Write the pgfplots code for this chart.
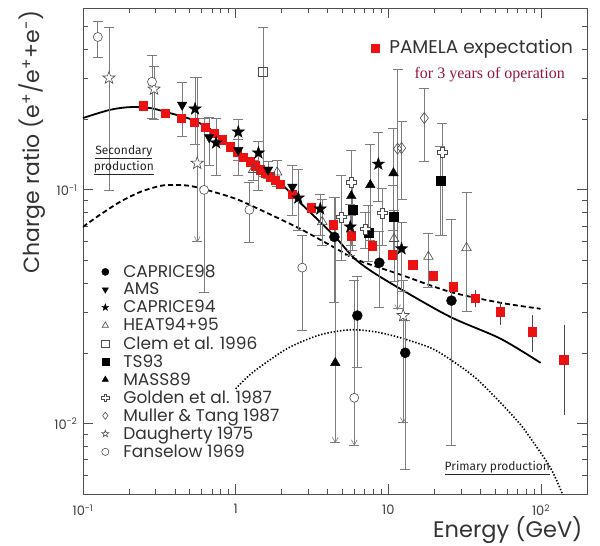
\documentclass[border=0pt]{standalone}
\usepackage{fontspec}
\setmainfont{Poppins}
\newfontfamily\timesfont{Liberation Serif}
\newfontfamily\notefont{Fira Sans}
\usepackage{pgfplots}
\pgfplotsset{compat=1.18}
\usetikzlibrary{plotmarks}

\definecolor{pamred}{RGB}{236,18,18}
\definecolor{opred}{RGB}{150,22,62}
\definecolor{ebar}{RGB}{125,125,125}
\definecolor{axgray}{RGB}{80,80,80}

% five pointed star, filled with the fill colour in force
\pgfdeclareplotmark{fstar}{%
  \pgfpathmoveto{\pgfqpointpolar{90}{\pgfplotmarksize}}%
  \pgfpathlineto{\pgfqpointpolar{126}{0.4\pgfplotmarksize}}%
  \pgfpathlineto{\pgfqpointpolar{162}{\pgfplotmarksize}}%
  \pgfpathlineto{\pgfqpointpolar{198}{0.4\pgfplotmarksize}}%
  \pgfpathlineto{\pgfqpointpolar{234}{\pgfplotmarksize}}%
  \pgfpathlineto{\pgfqpointpolar{270}{0.4\pgfplotmarksize}}%
  \pgfpathlineto{\pgfqpointpolar{306}{\pgfplotmarksize}}%
  \pgfpathlineto{\pgfqpointpolar{342}{0.4\pgfplotmarksize}}%
  \pgfpathlineto{\pgfqpointpolar{18}{\pgfplotmarksize}}%
  \pgfpathlineto{\pgfqpointpolar{54}{0.4\pgfplotmarksize}}%
  \pgfpathclose
  \pgfusepathqfillstroke}
% greek cross outline
\pgfdeclareplotmark{gcross}{%
  \pgfpathmoveto{\pgfqpoint{0.35\pgfplotmarksize}{\pgfplotmarksize}}%
  \pgfpathlineto{\pgfqpoint{-0.35\pgfplotmarksize}{\pgfplotmarksize}}%
  \pgfpathlineto{\pgfqpoint{-0.35\pgfplotmarksize}{0.35\pgfplotmarksize}}%
  \pgfpathlineto{\pgfqpoint{-\pgfplotmarksize}{0.35\pgfplotmarksize}}%
  \pgfpathlineto{\pgfqpoint{-\pgfplotmarksize}{-0.35\pgfplotmarksize}}%
  \pgfpathlineto{\pgfqpoint{-0.35\pgfplotmarksize}{-0.35\pgfplotmarksize}}%
  \pgfpathlineto{\pgfqpoint{-0.35\pgfplotmarksize}{-\pgfplotmarksize}}%
  \pgfpathlineto{\pgfqpoint{0.35\pgfplotmarksize}{-\pgfplotmarksize}}%
  \pgfpathlineto{\pgfqpoint{0.35\pgfplotmarksize}{-0.35\pgfplotmarksize}}%
  \pgfpathlineto{\pgfqpoint{\pgfplotmarksize}{-0.35\pgfplotmarksize}}%
  \pgfpathlineto{\pgfqpoint{\pgfplotmarksize}{0.35\pgfplotmarksize}}%
  \pgfpathlineto{\pgfqpoint{0.35\pgfplotmarksize}{0.35\pgfplotmarksize}}%
  \pgfpathclose
  \pgfusepathqfillstroke}
% downward arrow head for upper limits (tip at the point)
\pgfdeclareplotmark{varrow}{%
  \pgfpathmoveto{\pgfqpoint{-0.7\pgfplotmarksize}{1.3\pgfplotmarksize}}%
  \pgfpathlineto{\pgfpointorigin}%
  \pgfpathlineto{\pgfqpoint{0.7\pgfplotmarksize}{1.3\pgfplotmarksize}}%
  \pgfusepathqstroke}

\pgfplotsset{
  exp/.style={only marks,
    error bars/y dir=both, error bars/y explicit,
    error bars/error bar style={ebar, line width=0.6pt},
    error bars/error mark options={ebar, line width=0.6pt, mark size=5pt, rotate=90}},
  open/.style={mark options={draw=black!70, fill=white, line width=0.6pt}},
  uplim/.style={only marks, forget plot, mark=varrow, mark size=4pt,
    mark options={ebar, line width=0.6pt}},
}

\begin{document}
\begin{tikzpicture}
\path[use as bounding box] (-83pt,-52pt) rectangle (517pt,494pt);
\begin{axis}[
  scale only axis, width=504pt, height=486pt,
  xmode=log, ymode=log,
  xmin=0.1, xmax=200, ymin=0.005, ymax=0.6,
  xtick={0.1,1,10,100},
  xticklabels={10\textsuperscript{-1},1,10,10\textsuperscript{2}},
  ytick={0.01,0.1},
  yticklabels={10\textsuperscript{-2},10\textsuperscript{-1}},
  minor xtick={0.2,0.3,0.4,0.5,0.6,0.7,0.8,0.9,2,3,4,5,6,7,8,9,20,30,40,50,60,70,80,90,200},
  minor ytick={0.006,0.007,0.008,0.009,0.02,0.03,0.04,0.05,0.06,0.07,0.08,0.09,0.2,0.3,0.4,0.5},
  xtick pos=both, ytick pos=both,
  tickwidth=10pt, subtickwidth=5pt,
  axis line style={axgray, line width=0.7pt},
  every tick/.style={draw=axgray, line width=0.9pt},
  every minor tick/.style={draw=axgray, line width=0.8pt},
  ticklabel style={font=\fontsize{13}{13}\selectfont, text=black!75},
  xticklabel style={yshift=-7pt},
  yticklabel style={xshift=-2pt},
  xlabel={Energy (GeV)},
  ylabel={Charge ratio (e\textsuperscript{+}/e\textsuperscript{+}+e\textsuperscript{-})},
  every axis x label/.style={at={(axis description cs:0.998,-0.074)}, anchor=east,
    font=\fontsize{22.5}{22.5}\selectfont, text=black!80},
  every axis y label/.style={at={(axis description cs:-0.101,0.724)}, rotate=90, anchor=center,
    font=\fontsize{22}{22}\selectfont, text=black!80},
  legend style={at={(rel axis cs:0.034,0.476)}, anchor=north west, draw=none, fill=none,
    font=\fontsize{17}{20}\selectfont, text=black!80, row sep=0pt, inner sep=0pt},
  legend cell align=left,
  legend image code/.code={%
    \path[draw=none, fill=none] (-5pt,-3pt) rectangle (16pt,3pt);
    \draw[#1, mark size=3.6pt] plot coordinates {(0pt,0pt)};},
]

% model curves
\addplot[black, line width=1.8pt, smooth, forget plot] coordinates {
 (0.1,0.203) (0.150,0.220) (0.203,0.226) (0.275,0.224) (0.371,0.213) (0.504,0.201)
 (0.681,0.182) (1.0,0.147) (1.45,0.122) (1.96,0.107) (2.65,0.0880) (4.36,0.0642)
 (5.89,0.0515) (7.62,0.0452) (12.0,0.0377) (25.5,0.0286) (54.2,0.0231) (99.3,0.0182)};
\addplot[black, line width=1.8pt, dash pattern=on 5pt off 3pt, smooth, forget plot] coordinates {
 (0.1,0.0695) (0.129,0.0782) (0.175,0.0889) (0.237,0.098) (0.320,0.104) (0.389,0.105)
 (0.504,0.104) (0.681,0.099) (1.0,0.0916) (1.45,0.0822) (2.65,0.0681) (4.36,0.0570)
 (6.26,0.0502) (12.0,0.0434) (25.5,0.0366) (54.2,0.0329) (99.3,0.031)};
\addplot[black, line width=1.6pt, dash pattern=on 1.4pt off 1.8pt, smooth, forget plot] coordinates {
 (1.0,0.0141) (1.24,0.0162) (1.61,0.0184) (2.28,0.0213) (3.58,0.0240) (5.63,0.0252)
 (8.22,0.0247) (12.0,0.0233) (18.9,0.0211) (25.5,0.0188) (37.2,0.0157) (54.2,0.0123)
 (73.4,0.0099) (89.3,0.0083) (115,0.00649) (138,0.005) (150,0.0042)};

% PAMELA expectation
\addplot[only marks, mark=square*, mark size=4.2pt, pamred, forget plot,
  error bars/y dir=both, error bars/y explicit,
  error bars/error bar style={black!70, line width=0.6pt},
  error bars/error mark=none]
 table[x=x, y=y, y error plus=ep, y error minus=em] {
x y ep em
0.247 0.229 0 0
0.345 0.213 0 0
0.440 0.203 0 0
0.535 0.195 0 0
0.631 0.186 0 0
0.723 0.175 0 0
0.815 0.164 0 0
0.920 0.153 0 0
1.02 0.145 0 0
1.12 0.138 0 0
1.24 0.132 0 0
1.34 0.127 0 0
1.45 0.122 0 0
1.56 0.118 0 0
1.68 0.114 0 0
1.82 0.110 0 0
1.96 0.106 0 0
2.35 0.0961 0 0
3.13 0.0838 0 0
4.36 0.0709 0 0
5.72 0.0636 0 0
7.85 0.0577 0 0
10.6 0.0528 0 0
14.4 0.0478 0 0
19.7 0.0429 0 0
26.7 0.0385 0.002 0.002
37.2 0.0345 0.0029 0.0029
54.2 0.0301 0.0031 0.0036
87.9 0.0247 0.0045 0.0044
141 0.0188 0.0077 0.0079
};

% CAPRICE98
\addplot[exp, mark=*, mark size=5pt, black] table[x=x, y=y, y error plus=ep, y error minus=em] {
x y ep em
4.43 0.0629 0.0304 0.0300
8.73 0.0488 0.0175 0.0172
6.26 0.0290 0.0135 0.0115
12.9 0.0201 0.0077 0.0137
25.9 0.0336 0.0416 0.0255
};
% AMS
\addplot[exp, mark=triangle*, mark size=5.5pt, mark options={rotate=180}, black] table[x=x, y=y, y error plus=ep, y error minus=em] {
x y ep em
0.446 0.231 0.059 0.061
0.670 0.168 0.037 0.040
1.04 0.148 0.016 0.014
1.63 0.122 0.010 0.010
2.35 0.103 0.025 0.025
};
% CAPRICE94
\addplot[exp, mark=fstar, mark size=6.5pt, black] table[x=x, y=y, y error plus=ep, y error minus=em] {
x y ep em
0.542 0.222 0.082 0.066
0.745 0.159 0.044 0.043
1.04 0.177 0.024 0.061
1.41 0.144 0.018 0.044
2.57 0.0924 0.030 0.025
3.58 0.0829 0.013 0.019
5.63 0.0695 0.017 0.017
8.6 0.129 0.048 0.040
12.2 0.056 0.017 0.019
};
% HEAT94+95
\addplot[exp, open, mark=triangle, mark size=5.5pt, black] table[x=x, y=y, y error plus=ep, y error minus=em] {
x y ep em
1.30 0.122 0.012 0.012
1.87 0.119 0.015 0.015
3.69 0.073 0.018 0.015
10.9 0.0618 0.020 0.021
18.3 0.0518 0.0137 0.0133
32.5 0.0565 0.0415 0.0264
};
% Clem et al. 1996
\addplot[exp, open, mark=square, mark size=4.5pt, black] table[x=x, y=y, y error plus=ep, y error minus=em] {
x y ep em
1.51 0.319 0.179 0.205
};
% TS93
\addplot[exp, mark=square*, mark size=4.5pt, black] table[x=x, y=y, y error plus=ep, y error minus=em] {
x y ep em
5.81 0.0822 0.028 0.027
7.39 0.0655 0.0208 0.0162
10.8 0.0767 0.028 0.024
21.9 0.109 0.045 0.045
};
% MASS89
\addplot[exp, mark=triangle*, mark size=5.5pt, black] table[x=x, y=y, y error plus=ep, y error minus=em] {
x y ep em
4.49 0.0182 0.075 0.0099
5.72 0.0942 0.054 0.036
7.62 0.105 0.051 0.044
10.8 0.118 0.066 0.051
};
% Golden et al. 1987
\addplot[exp, open, mark=gcross, mark size=5pt, black] table[x=x, y=y, y error plus=ep, y error minus=em] {
x y ep em
4.92 0.0767 0.039 0.0265
5.72 0.108 0.040 0.030
7.06 0.0681 0.012 0.012
9.14 0.0798 0.022 0.022
22.6 0.145 0.048 0.081
};
% Muller & Tang 1987
\addplot[exp, open, mark=diamond, mark size=5.5pt, black] table[x=x, y=y, y error plus=ep, y error minus=em] {
x y ep em
17.2 0.203 0.070 0.071
11.5 0.150 0.179 0.119
12.2 0.151 0.046 0.060
};
% Daugherty 1975
\addplot[exp, open, mark=fstar, mark size=6.5pt, black] table[x=x, y=y, y error plus=ep, y error minus=em] {
x y ep em
0.148 0.301 0.197 0.201
0.292 0.270 0.069 0.069
0.560 0.130 0.174 0.070
12.5 0.0290 0.0122 0.0189
};
% Fanselow 1969
\addplot[exp, open, mark=*, mark size=4.5pt, black] table[x=x, y=y, y error plus=ep, y error minus=em] {
x y ep em
0.125 0.451 0.076 0.081
0.283 0.290 0.088 0.087
0.621 0.1 0.103 0.0637
1.23 0.0822 0.026 0.0228
2.73 0.0465 0.0177 0.0213
5.98 0.0129 0.0283 0.0048
};

% arrow heads at the lower ends of upper limits
\addplot[uplim] coordinates {(4.49,0.0083) (11.5,0.0307) (0.560,0.060) (12.5,0.0101) (5.98,0.0081)};

\legend{CAPRICE98, AMS, CAPRICE94, HEAT94+95, Clem et al. 1996, TS93, MASS89,
  Golden et al. 1987, Muller \& Tang 1987, Daugherty 1975, Fanselow 1969}

\node[anchor=west, font=\fontsize{18.5}{18.5}\selectfont, text=black!80]
  at (rel axis cs:0.565,0.916) {\textcolor{pamred}{\rule{9pt}{9pt}}\hspace{9pt}PAMELA expectation};
\node[font=\timesfont\fontsize{16}{16}\selectfont, text=opred]
  at (rel axis cs:0.807,0.862) {for 3 years of operation};
\node[align=center, font=\notefont\fontsize{12}{16}\selectfont, text=black!85]
  at (rel axis cs:0.081,0.687) {\underline{Secondary}\\\underline{production}};
\node[font=\notefont\fontsize{12}{14}\selectfont, text=black!85]
  at (rel axis cs:0.822,0.054) {\underline{Primary production}};
\end{axis}

% second frame: ticks on the top and right sides
\begin{axis}[
  scale only axis, width=504pt, height=486pt,
  xmode=log, ymode=log,
  xmin=0.1, xmax=200, ymin=0.005, ymax=0.6,
  axis x line*=top, axis y line*=right,
  xtick={0.1,1,10,100}, ytick={0.01,0.1},
  xticklabels={}, yticklabels={},
  minor xtick={0.2,0.3,0.4,0.5,0.6,0.7,0.8,0.9,2,3,4,5,6,7,8,9,20,30,40,50,60,70,80,90,200},
  minor ytick={0.006,0.007,0.008,0.009,0.02,0.03,0.04,0.05,0.06,0.07,0.08,0.09,0.2,0.3,0.4,0.5},
  tickwidth=10pt, subtickwidth=5pt,
  axis line style={axgray, line width=0.7pt},
  every tick/.style={draw=axgray, line width=0.9pt},
  every minor tick/.style={draw=axgray, line width=0.8pt},
]
\addplot[draw=none, forget plot] coordinates {(1,0.1) (10,0.05)};
\end{axis}
\end{tikzpicture}
\end{document}
